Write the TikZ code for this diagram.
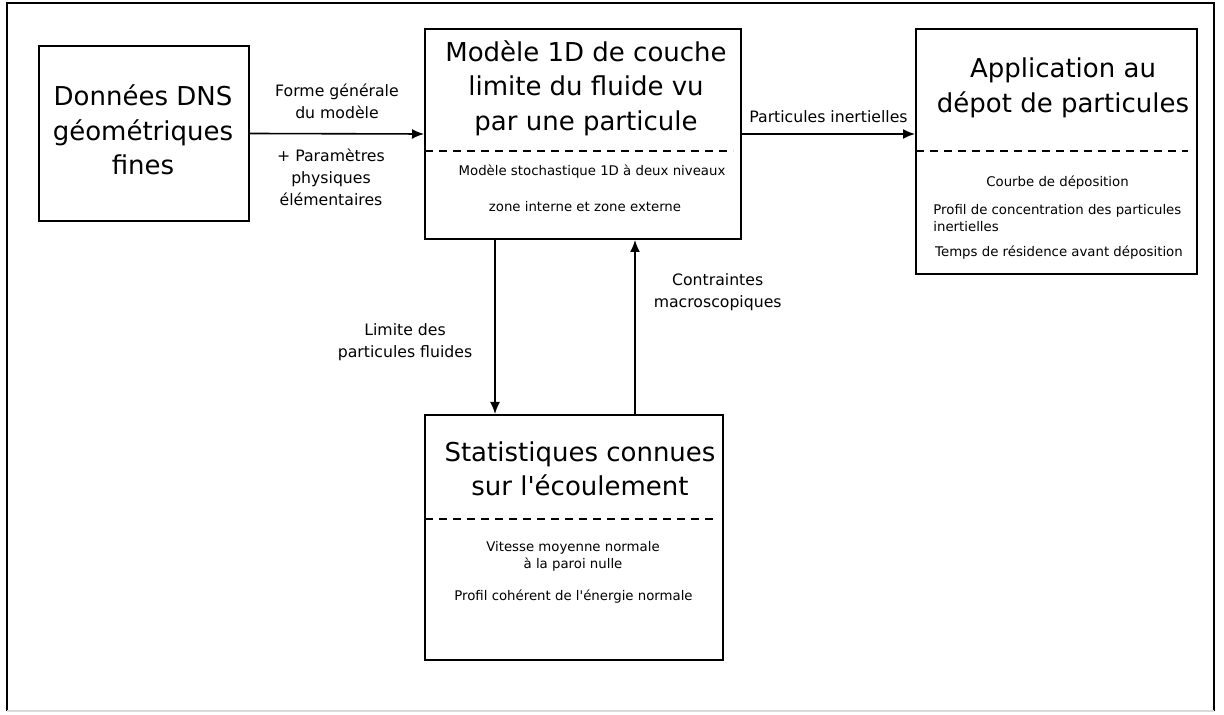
\documentclass[tikz,border=0pt]{standalone}
\usepackage{fontspec}
\setmainfont{DejaVu Sans}[Ligatures=TeXOff]
\usetikzlibrary{arrows.meta,positioning}
\tikzset{
    block/.style = {draw, line width=1pt, rectangle, inner sep=0pt},
    block-title/.style = {font=\fontsize{13}{17.25}\selectfont, align=center, inner sep=0pt},
    block-text/.style = {font=\fontsize{6.65}{8.5}\selectfont, inner sep=0pt},
    flow-label/.style = {font=\fontsize{7.85}{11}\selectfont, align=center, inner sep=0pt},
    flow/.style = {-{Latex[length=6pt,width=5pt]}, line width=0.8pt},
    divider/.style = {line width=0.8pt, dash pattern=on 4pt off 3pt},
}

\begin{document}
\begin{tikzpicture}[x=0.5pt, y=-0.5pt]
\useasboundingbox (0,0) rectangle (1224,715);
% frame
\draw[line width=1pt] (7,711) -- (7,3) -- (1214,3) -- (1214,711);
\draw[black!15, line width=0.6pt] (7,711) -- (1214,711);

% blocks
\node[block, minimum width=105pt, minimum height=87.5pt] (dns) at (144,133.5) {};
\node[block, minimum width=158pt, minimum height=105pt] (modele) at (583,134) {};
\node[block, minimum width=140.5pt, minimum height=122.5pt] (depot) at (1056.5,151.5) {};
\node[block, minimum width=149pt, minimum height=122.5pt] (stats) at (574,537.5) {};

% titles
\node[block-title] (dns-title) at (143,130) {Données DNS\\géométriques\\fines};
\node[block-title] (modele-title) at (586,88) {Modèle 1D de couche\\limite du fluide vu\\par une particule};
\node[block-title] (depot-title) at (1063,88) {Application au\\dépot de particules};
\node[block-title] (stats-title) at (580,469) {Statistiques connues\\sur l'écoulement};

% dividers
\draw[divider] (425,151) -- (733,151);
\draw[divider] (916,151) -- (1188,151);
\draw[divider] (425,519) -- (715,519);

% block contents
\node[block-text, anchor=base] (modele-a) at (592,176) {Modèle stochastique 1D à deux niveaux};
\node[block-text, anchor=base] (modele-b) at (585,212) {zone interne et zone externe};
\node[block-text, anchor=base] (depot-a) at (1057.5,187) {Courbe de déposition};
\node[block-text, anchor=west, align=left] (depot-b) at (933,218) {Profil de concentration des particules\\inertielles};
\node[block-text, anchor=base] (depot-c) at (1059,257) {Temps de résidence avant déposition};
\node[block-text, align=center] (stats-a) at (573,556) {Vitesse moyenne normale\\à la paroi nulle};
\node[block-text, anchor=base] (stats-b) at (573.5,600) {Profil cohérent de l'énergie normale};

% connectors
\coordinate (down) at (495,0);
\coordinate (up) at (635,0);
\draw[flow] (dns.east) -- node[flow-label, above=7pt] {Forme générale\\du modèle}
    node[flow-label, below=7pt, xshift=-3pt] {+ Paramètres\\physiques\\élémentaires} (modele.west);
\draw[flow] (modele.east) -- node[flow-label, above=5pt] {Particules inertielles} (modele.east -| depot.west);
\draw[flow] (modele.south -| down) -- node[flow-label, pos=0.59, left=11pt] {Limite des\\particules fluides} (stats.north -| down);
\draw[flow] (stats.north -| up) -- node[flow-label, pos=0.70, right=9pt] {Contraintes\\macroscopiques} (modele.south -| up);
\end{tikzpicture}
\end{document}
